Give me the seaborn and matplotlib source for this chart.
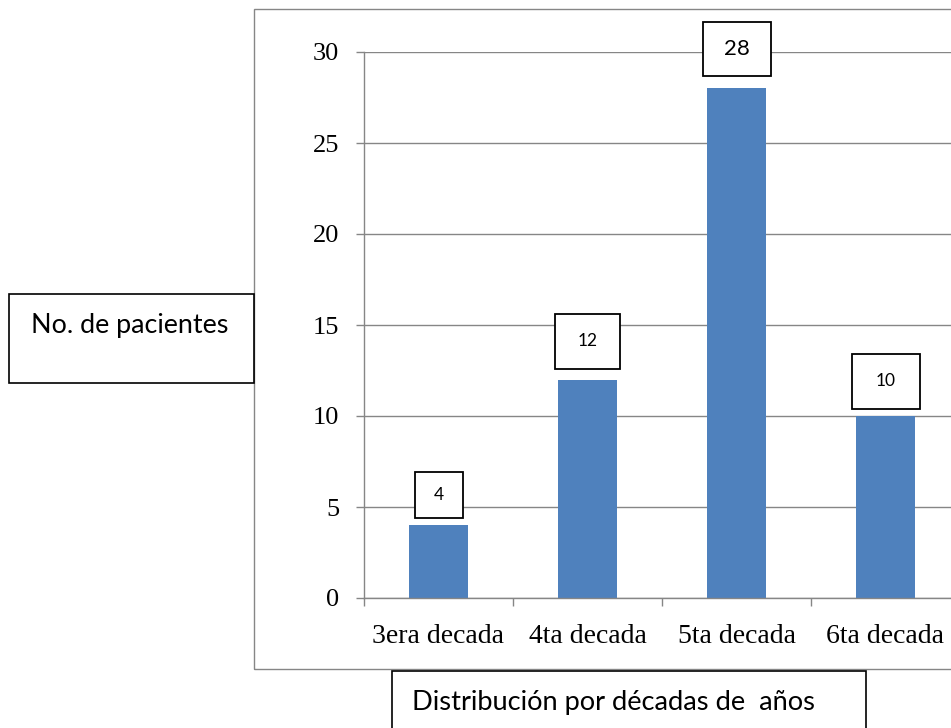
import matplotlib
matplotlib.use("Agg")
import matplotlib.pyplot as plt
from matplotlib.patches import Rectangle
from matplotlib.transforms import ScaledTranslation
import seaborn as sns
import pandas as pd

# ---- data ----
decades = ["3era decada", "4ta decada", "5ta decada", "6ta decada"]
patients = [4, 12, 28, 10]
y_ticks = [0, 5, 10, 15, 20, 25, 30]
y_title = "No. de pacientes"
x_title = "Distribución por décadas de  años"

# ---- value-label box styling (pixels / points) ----
label_box_w = [48, 65, 68, 68]
label_box_h = [46, 55, 54, 55]
label_gap = [7, 11, 12, 7]
label_fs = [12.5, 12.5, 16, 12.5]

W, H, DPI = 951, 728, 100
BAR = "#4F81BD"
GRID = "#868686"
SANS = ["Lato", "DejaVu Sans"]

sns.set_theme(style="white")
plt.rcParams["font.family"] = ["Liberation Serif", "DejaVu Serif"]

fig = plt.figure(figsize=(W / DPI, H / DPI), dpi=DPI)
fig.patch.set_facecolor("white")


def fx(px):
    return px / W


def fy(py):
    return 1 - py / H


def fit_width(txt, target_px):
    r = fig.canvas.get_renderer()
    w = txt.get_window_extent(renderer=r).width
    txt.set_fontsize(txt.get_fontsize() * target_px / w)


# outer chart frame
fig.add_artist(Rectangle((fx(254), fy(669)), fx(740), (669 - 9) / H,
                         transform=fig.transFigure, fill=False,
                         edgecolor=GRID, lw=1.0, zorder=0))

ax = fig.add_axes([fx(364), fy(598), 596 / W, 546 / H])
ax.set_facecolor("none")
df = pd.DataFrame({"decada": decades, "pacientes": patients})
sns.barplot(data=df, x="decada", y="pacientes", color=BAR, saturation=1,
            width=0.4, ax=ax, linewidth=0)

ax.set_yticks(y_ticks)
ax.yaxis.grid(True, color=GRID, lw=1.0)
ax.xaxis.grid(False)
ax.set_axisbelow(True)
for s in ("top", "right"):
    ax.spines[s].set_visible(False)
for s in ("left", "bottom"):
    ax.spines[s].set_color(GRID)
    ax.spines[s].set_linewidth(1.0)
ax.set_xlabel("")
ax.set_ylabel("")

ax.tick_params(axis="y", left=True, length=5.8, width=1.0, color=GRID,
               direction="out", pad=12, labelsize=19, labelcolor="black")
ax.set_xticks([-0.5, 0.5, 1.5, 2.5, 3.5], minor=True)
ax.tick_params(axis="x", which="major", bottom=True, length=0, pad=19,
               labelsize=20, labelcolor="black")
ax.tick_params(axis="x", which="minor", bottom=True, length=5.8, width=1.0,
               color=GRID, direction="out")

# boxed value labels above each bar
for i, v in enumerate(patients):
    tr = fig.dpi_scale_trans + ScaledTranslation(i, v, ax.transData)
    w = label_box_w[i] / DPI
    h = label_box_h[i] / DPI
    g = label_gap[i] / DPI
    ax.add_patch(Rectangle((-w / 2, g), w, h, transform=tr, facecolor="white",
                           edgecolor="black", lw=1.3, clip_on=False, zorder=5))
    ax.text(0, g + h / 2, str(v), transform=tr, ha="center", va="center",
            fontsize=label_fs[i], family=SANS, color="black",
            clip_on=False, zorder=6)

ax.set_xlim(-0.5, 3.5)
ax.set_ylim(0, 30)

# axis title boxes
fig.add_artist(Rectangle((fx(9), fy(383)), fx(245), (383 - 294) / H,
                         transform=fig.transFigure, facecolor="white",
                         edgecolor="black", lw=1.2, zorder=3))
t1 = fig.text(fx(31), fy(333), y_title, ha="left", va="baseline",
              fontsize=18, family=SANS, color="black", zorder=4)

fig.add_artist(Rectangle((fx(392), fy(745)), fx(474), (745 - 671) / H,
                         transform=fig.transFigure, facecolor="white",
                         edgecolor="black", lw=1.2, zorder=3))
t2 = fig.text(fx(412), fy(710), x_title, ha="left", va="baseline",
              fontsize=18, family=SANS, color="black", zorder=4)

fit_width(t1, 197)
fit_width(t2, 403)

fig.savefig("out.png", dpi=DPI)
